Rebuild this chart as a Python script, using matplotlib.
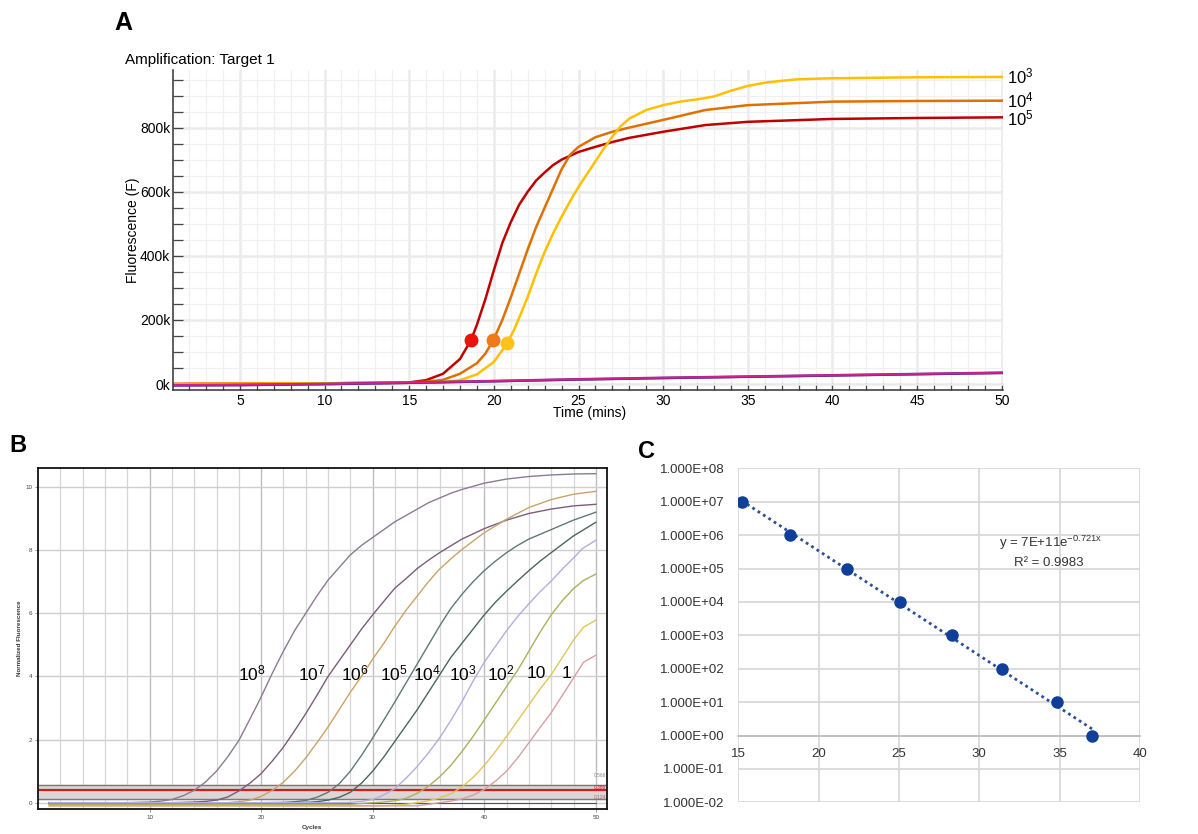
import matplotlib
matplotlib.use("Agg")
import matplotlib.pyplot as plt
import numpy as np
from matplotlib.ticker import MultipleLocator, FuncFormatter, NullLocator

plt.rcParams['font.family'] = ['Liberation Sans', 'DejaVu Sans']

W, H = 1198, 834

# ---------------- panel A : amplification, fluorescence (k) vs time ----------------
a_red_x = [1, 10, 15, 16, 17, 18, 18.65, 19.0, 19.5, 20.0, 20.5, 21.0, 21.5, 22.0, 22.5, 23.0, 23.5, 24,
           25, 26, 27, 28, 30, 32.5, 35, 40, 45, 50]
a_red_y = [0, 2, 5, 12, 32, 78, 137, 185, 265, 355, 440, 505, 560, 600, 635, 660, 683, 700,
           724, 740, 755, 768, 787, 808, 818, 827, 830, 832]

a_orange_x = [1, 10, 15, 16, 17, 18, 19, 19.5, 19.97, 20.5, 21.0, 21.5, 22.0, 22.5, 23.0, 23.5, 24.0, 24.5,
              25, 26, 27, 28, 30, 32.5, 35, 40, 45, 50]
a_orange_y = [0, 2, 5, 7, 13, 32, 65, 95, 137, 200, 270, 345, 420, 490, 550, 610, 670, 715,
              740, 770, 787, 800, 824, 855, 870, 881, 883, 884]

a_yellow_x = [1, 10, 15, 17, 18, 19, 20, 20.79, 21.2, 21.6, 22.0, 22.5, 23, 23.5, 24, 24.5, 25, 25.5, 26,
              26.5, 27, 27.5, 28, 29, 30, 31, 32, 33, 34, 35, 36, 37, 38, 40, 45, 50]
a_yellow_y = [0, 2, 4, 6, 12, 30, 69, 127, 170, 220, 272, 345, 412, 470, 522, 570, 615, 655, 695,
              735, 772, 805, 828, 855, 870, 881, 888, 897, 915, 930, 940, 946, 951, 954, 957, 958]

a_base_x = [1, 5, 10, 15, 20, 25, 30, 35, 40, 45, 50]
a_base_y = [-4, -3, 0, 4, 9, 14.5, 19, 23, 27, 31, 35]

a_cq_x = [18.65, 19.97, 20.79]
a_cq_y = [137, 137, 127]
a_labels = ['10^3', '10^4', '10^5']
a_label_y = [960, 886, 830]

# ---------------- panel B : normalized fluorescence vs cycles ----------------
b_names = ['10^8', '10^7', '10^6', '10^5', '10^4', '10^3', '10^2', '10', '1']
b_colors = ['#8c7a92', '#7b5c7d', '#c9a368', '#5e7977', '#4b655f', '#b3ade0', '#adaf5c', '#e2c55a', '#d6a0a0']
b_x = [
    [1, 8, 10, 11, 12, 13, 14, 15, 16, 17, 18, 19, 20, 21, 22, 23, 24, 25, 26, 27, 28, 29, 30, 31, 32, 33, 34,
     35, 36, 37, 38, 40, 42, 44, 46, 48, 50],
    [1, 12, 14, 15, 16, 17, 18, 19, 20, 21, 22, 23, 24, 25, 26, 27, 28, 29, 30, 31, 32, 33, 34, 35, 36, 38, 40,
     42, 44, 46, 48, 50],
    [1, 15, 17, 18, 19, 20, 21, 22, 23, 24, 25, 26, 27, 28, 29, 30, 31, 32, 33, 34, 35, 36, 37, 38, 40, 42, 44,
     46, 48, 50],
    [1, 20, 22, 23, 24, 25, 26, 27, 28, 29, 30, 31, 32, 33, 34, 35, 36, 37, 38, 39, 40, 41, 42, 43, 44, 46, 48,
     50],
    [1, 22, 24, 25, 26, 27, 28, 29, 30, 31, 32, 33, 34, 35, 36, 37, 38, 39, 40, 41, 42, 43, 44, 45, 46, 48, 50],
    [1, 26, 28, 29, 30, 31, 32, 33, 34, 35, 36, 37, 38, 39, 40, 41, 42, 43, 44, 45, 46, 47, 48, 48.8, 50],
    [1, 28, 30, 31, 32, 33, 34, 35, 36, 37, 38, 39, 40, 41, 42, 43, 44, 45, 46, 47, 48, 48.9, 50],
    [1, 31, 33, 34, 35, 36, 37, 38, 39, 40, 41, 42, 43, 44, 45, 46, 47, 48, 48.9, 50],
    [1, 34, 36, 37, 38, 39, 40, 41, 42, 43, 44, 45, 46, 47, 48, 48.9, 50],
]
b_y = [
    [0, 0, 0.02, 0.05, 0.1, 0.22, 0.39, 0.65, 1.0, 1.45, 1.97, 2.65, 3.35, 4.1, 4.8, 5.45, 6.0, 6.55, 7.05, 7.45,
     7.85, 8.15, 8.4, 8.65, 8.9, 9.1, 9.3, 9.5, 9.65, 9.8, 9.92, 10.12, 10.25, 10.33, 10.38, 10.41, 10.42],
    [0, 0, 0.02, 0.04, 0.08, 0.18, 0.37, 0.62, 0.92, 1.32, 1.76, 2.28, 2.82, 3.4, 4.0, 4.5, 5.0, 5.5, 5.95, 6.38,
     6.8, 7.1, 7.42, 7.68, 7.92, 8.35, 8.68, 8.95, 9.16, 9.3, 9.4, 9.45],
    [-0.05, -0.05, 0.0, 0.03, 0.08, 0.2, 0.39, 0.65, 1.0, 1.42, 1.9, 2.4, 2.95, 3.5, 4.0, 4.55, 5.05, 5.6, 6.1,
     6.55, 7.0, 7.4, 7.72, 8.02, 8.55, 8.98, 9.35, 9.6, 9.77, 9.86],
    [0, 0, 0.01, 0.03, 0.07, 0.17, 0.33, 0.6, 1.0, 1.5, 2.05, 2.62, 3.2, 3.8, 4.4, 5.0, 5.6, 6.15, 6.6, 7.0, 7.35,
     7.65, 7.92, 8.15, 8.35, 8.65, 8.95, 9.2],
    [0, 0, 0.01, 0.03, 0.08, 0.17, 0.33, 0.62, 1.0, 1.45, 1.95, 2.45, 2.95, 3.5, 4.05, 4.6, 5.05, 5.5, 5.95, 6.35,
     6.7, 7.03, 7.35, 7.65, 7.92, 8.45, 8.88],
    [0, 0, 0.01, 0.04, 0.1, 0.25, 0.45, 0.78, 1.15, 1.58, 2.05, 2.6, 3.2, 3.85, 4.45, 4.95, 5.45, 5.9, 6.3, 6.68,
     7.02, 7.4, 7.75, 8.05, 8.31],
    [-0.05, -0.05, 0.0, 0.02, 0.06, 0.14, 0.3, 0.52, 0.82, 1.18, 1.62, 2.1, 2.62, 3.15, 3.68, 4.2, 4.8, 5.4, 5.95,
     6.4, 6.78, 7.04, 7.24],
    [-0.1, -0.1, -0.05, 0.0, 0.06, 0.15, 0.28, 0.5, 0.8, 1.18, 1.62, 2.1, 2.6, 3.1, 3.6, 4.05, 4.6, 5.15, 5.56,
     5.78],
    [-0.1, -0.1, 0.0, 0.05, 0.12, 0.24, 0.42, 0.68, 1.0, 1.42, 1.9, 2.38, 2.85, 3.4, 3.95, 4.45, 4.67],
]
b_label_x = [19.2, 24.55, 28.4, 31.9, 34.9, 38.1, 41.5, 44.7, 47.4]
b_thresholds = [0.566, 0.386, 0.124]

# ---------------- panel C : standard curve ----------------
c_ct = np.array([15.21, 18.22, 21.78, 25.06, 28.3, 31.39, 34.81, 37.01])
c_copies = np.array([1e7, 1e6, 1e5, 1e4, 1e3, 1e2, 1e1, 1e0])


def fx(px):
    return px / W


def fy(py):
    return 1 - py / H


def sup(s):
    if '^' in s:
        b, e = s.split('^')
        return r'$\mathregular{%s^{%s}}$' % (b, e)
    return s


fig = plt.figure(figsize=(W / 100, H / 100), dpi=100)

# ---- A ----
axA = fig.add_axes([fx(173), fy(390), (1003 - 173) / W, (390 - 70) / H])
axA.set_xlim(1.05, 50.07)
axA.set_ylim(-18700, 979700)
axA.set_axisbelow(True)
axA.xaxis.set_major_locator(MultipleLocator(5))
axA.xaxis.set_minor_locator(MultipleLocator(1))
axA.yaxis.set_major_locator(MultipleLocator(200000))
axA.yaxis.set_minor_locator(MultipleLocator(50000))
axA.yaxis.set_major_formatter(FuncFormatter(lambda v, p: '%dk' % round(v / 1000)))
axA.grid(which='major', color='#ebebeb', lw=1.8)
axA.grid(which='minor', color='#f0f0f0', lw=0.9)
axA.tick_params(which='both', direction='in', color='#444444', labelsize=10, width=0.9)
axA.tick_params(axis='y', which='both', length=7, pad=2)
axA.tick_params(axis='x', which='both', length=5, pad=3)
for s in ['top', 'right']:
    axA.spines[s].set_visible(False)
for s in ['left', 'bottom']:
    axA.spines[s].set_color('#333333')
    axA.spines[s].set_linewidth(1.1)

k = 1000.0
axA.plot(a_red_x, np.array(a_red_y) * k, color='#c00000', lw=1.8)
axA.plot(a_orange_x, np.array(a_orange_y) * k, color='#e07000', lw=1.8)
axA.plot(a_yellow_x, np.array(a_yellow_y) * k, color='#ffc000', lw=1.8)
axA.plot(a_base_x, np.array(a_base_y) * k - 1500, color='#3a5fc0', lw=1.2)
axA.plot(a_base_x, np.array(a_base_y) * k, color='#7b2a8c', lw=2.0)
axA.plot(a_base_x, np.array(a_base_y) * k + 800, color='#d4208c', lw=1.2)
for xx, yy, cc in zip(a_cq_x, a_cq_y, ['#e8140c', '#f07818', '#ffc21a']):
    axA.plot([xx], [yy * k], 'o', color=cc, ms=9, zorder=5)

for lab, ly in zip(a_labels, a_label_y):
    axA.text(50.3, ly * k, sup(lab), fontsize=12, va='center', ha='left', clip_on=False)

fig.text(fx(125), fy(60), 'Amplification: Target 1', fontsize=11, va='center', ha='left')
fig.text(fx(133), fy(230), 'Fluorescence (F)', fontsize=10, rotation=90, va='center', ha='center')
fig.text(fx(590), fy(413), 'Time (mins)', fontsize=10, va='center', ha='center')
fig.text(fx(123), fy(23), 'A', fontsize=18, fontweight='bold', va='center', ha='center')

# ---- B ----
axB = fig.add_axes([fx(38), fy(809), (607 - 38) / W, (809 - 468) / H])
axB.set_xlim(0, 51)
axB.set_ylim(-0.2, 10.6)
axB.set_axisbelow(True)
axB.set_xticks([10, 20, 30, 40, 50])
axB.set_xticks(np.arange(2, 51, 2), minor=True)
axB.set_yticks([0, 2, 4, 6, 8, 10])
axB.grid(which='minor', axis='x', color='#d6d6d6', lw=0.9)
axB.grid(which='major', axis='x', color='#bdbdbd', lw=1.0)
axB.grid(which='major', axis='y', color='#cfcfcf', lw=1.0)
axB.tick_params(which='both', length=2, width=0.5, labelsize=4.5, color='#777777', labelcolor='#444444', pad=2)
axB.tick_params(which='minor', length=0)
for s in axB.spines.values():
    s.set_color('#111111')
    s.set_linewidth(1.3)

axB.axhspan(b_thresholds[2], b_thresholds[0], color='#dcd6d6', zorder=1)
axB.axhline(b_thresholds[0], color='#7a7a7a', lw=1.0, zorder=1.5)
axB.axhline(b_thresholds[2], color='#7a7a7a', lw=1.0, zorder=1.5)
axB.axhline(b_thresholds[1], color='#cc2020', lw=1.6, zorder=1.5)
axB.axhline(0, xmin=1 / 51, xmax=50 / 51, color='#555555', lw=0.8, zorder=1.5)
for tv, tc, dy in zip(b_thresholds, ['#888888', '#cc2020', '#aa6666'], [0.2, 0.0, -0.05]):
    axB.text(50.9, tv + dy, '%.3f' % tv, fontsize=3.5, color=tc, ha='right', va='bottom')

for xs, ys, cc in zip(b_x, b_y, b_colors):
    axB.plot(xs, ys, color=cc, lw=1.0, zorder=3)
for lx, name in zip(b_label_x, b_names):
    axB.text(lx, 4.1, sup(name), fontsize=12.5, ha='center', va='center', zorder=4)

fig.text(fx(20), fy(638), 'Normalized Fluorescence', fontsize=4.5, fontweight='bold', rotation=90,
         va='center', ha='center', color='#333333')
fig.text(fx(312), fy(827), 'Cycles', fontsize=4.5, fontweight='bold', va='center', ha='center', color='#333333')
fig.text(fx(18), fy(445), 'B', fontsize=17, fontweight='bold', va='center', ha='center')

# ---- C ----
axC = fig.add_axes([fx(738.3), fy(802.3), (1140 - 738.3) / W, (802.3 - 468.3) / H])
axC.set_yscale('log')
axC.set_ylim(1e-2, 1e8)
axC.set_xlim(15, 40)
axC.set_yticks([10.0 ** e for e in range(-2, 9)])
axC.yaxis.set_minor_locator(NullLocator())
axC.yaxis.set_major_formatter(FuncFormatter(lambda v, p: '%.3E' % v))
axC.set_xticks([15, 20, 25, 30, 35, 40])
axC.set_axisbelow(True)
axC.grid(True, color='#d9d9d9', lw=1.3)
for s in ['top', 'right', 'left']:
    axC.spines[s].set_visible(False)
axC.spines['bottom'].set_position(('data', 1))
axC.spines['bottom'].set_color('#bfbfbf')
axC.spines['bottom'].set_linewidth(1.3)
axC.tick_params(length=0, labelsize=9.5, labelcolor='#333333')
axC.tick_params(axis='x', pad=9)
axC.tick_params(axis='y', pad=10)

fit = np.polyfit(c_ct, np.log(c_copies), 1)
trend_x = c_ct[[0, -1]]
axC.plot(trend_x, np.exp(fit[1] + fit[0] * trend_x), color='#2d4f95', lw=2.0, ls=(0, (1, 1.3)), zorder=3)
axC.plot(c_ct, c_copies, 'o', color='#0f3f99', ms=8, zorder=4)

fig.text(fx(1050), fy(543), r'y = 7E+11e$^{\mathregular{-0.721x}}$', fontsize=9.5, ha='center', va='center',
         color='#333333')
fig.text(fx(1049), fy(563), 'R² = 0.9983', fontsize=9.5, ha='center', va='center', color='#333333')
fig.text(fx(647), fy(451), 'C', fontsize=17, fontweight='bold', va='center', ha='center')

fig.savefig('out.png', dpi=100)
